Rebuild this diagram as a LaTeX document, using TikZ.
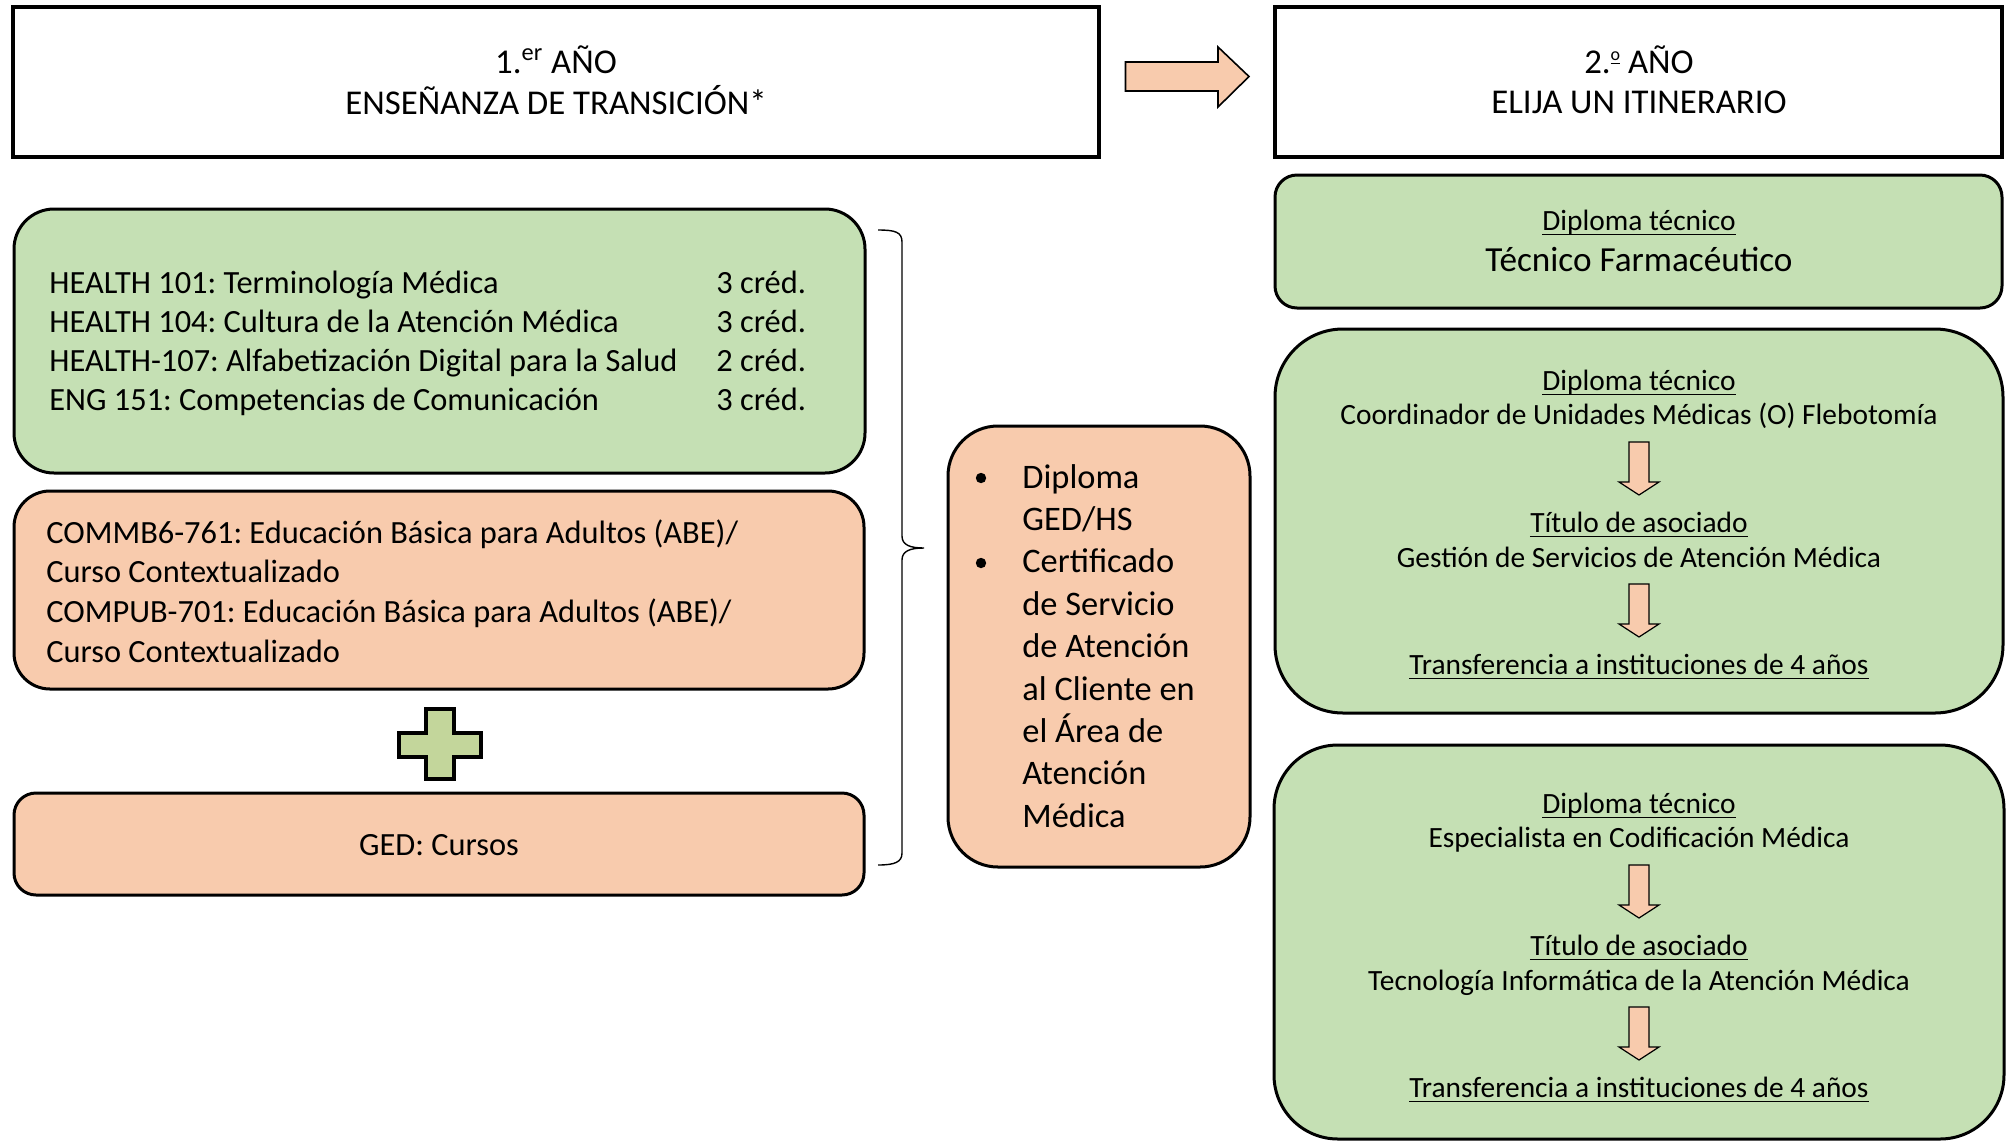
\documentclass[tikz,border=0pt]{standalone}
\usepackage{fontspec}
\setmainfont{Carlito}
\frenchspacing
\definecolor{gfill}{HTML}{C5E0B4}
\definecolor{ofill}{HTML}{F8CBAD}
\definecolor{pfill}{HTML}{C3D69B}
\newcommand\ordo{\raisebox{6.3pt}{\fontsize{9pt}{9pt}\selectfont\underline{o}}}
\begin{document}
\begin{tikzpicture}[x=0.5pt,y=-0.5pt,
  hdr/.style={draw, line width=1.7pt, fill=white, inner sep=0pt, rectangle},
  gbox/.style={draw, line width=1.5pt, fill=gfill, inner sep=0pt, rectangle},
  obox/.style={draw, line width=1.5pt, fill=ofill, inner sep=0pt, rectangle},
  hdrtxt/.style={font=\fontsize{17.4pt}{20pt}\selectfont, anchor=base, inner sep=0pt},
  bodyL/.style={font=\fontsize{16.2pt}{19pt}\selectfont, anchor=base west, inner sep=0pt},
  bodyC/.style={font=\fontsize{16.2pt}{19pt}\selectfont, anchor=base, inner sep=0pt},
  bulL/.style={font=\fontsize{17.2pt}{21pt}\selectfont, anchor=base west, inner sep=0pt},
  smallC/.style={font=\fontsize{14.7pt}{18pt}\selectfont, anchor=base, inner sep=0pt},
  bigC/.style={font=\fontsize{17.6pt}{21pt}\selectfont, anchor=base, inner sep=0pt},
  blk/.style={draw=black, line width=0.6pt, fill=ofill, line join=miter},
  uline/.style={line width=0.7pt}
]
\useasboundingbox (0,0) rectangle (2010,1142);

% header boxes
\node[hdr, minimum width=543pt, minimum height=75pt] (A) at (556,82) {};
\node[hdr, minimum width=363.5pt, minimum height=75pt] (B) at (1638.5,82) {};
\node[hdrtxt] (A1) at (556,73) {1.\textsuperscript{er} AÑO};
\node[hdrtxt] (A2) at (556,114) {ENSEÑANZA DE TRANSICIÓN*};
\node[hdrtxt] (B1) at (1639,73) {2.\ordo\ AÑO};
\node[hdrtxt] (B2) at (1639,113) {ELIJA UN ITINERARIO};

% big arrow between headers
\draw[blk, line width=0.8pt] (1125.5,62) -- (1218,62) -- (1218,47) -- (1249,76.5) -- (1218,107) -- (1218,91) -- (1125.5,91) -- cycle;

% left boxes
\node[gbox, rounded corners=20pt, minimum width=425.5pt, minimum height=132pt] (G1) at (439.5,341) {};
\node[obox, rounded corners=18pt, minimum width=425pt, minimum height=99pt] (O1) at (439,590) {};
\node[obox, rounded corners=11pt, minimum width=425pt, minimum height=51pt] (O2) at (439,844) {};

\foreach \i/\yy/\tx/\cc in {1/293/{HEALTH 101: Terminología Médica}/3,
  2/332/{HEALTH 104: Cultura de la Atención Médica}/3,
  3/371/{HEALTH-107: Alfabetización Digital para la Salud}/2,
  4/410/{ENG 151: Competencias de Comunicación}/3}{
  \node[bodyL] (gl\i) at (49,\yy) {\tx};
  \node[bodyL] (gc\i) at (716,\yy) {\cc\ créd.};
}
\foreach \i/\yy/\tx in {1/543/{COMMB6-761: Educación Básica para Adultos (ABE)/},
  2/582/{Curso Contextualizado},
  3/622/{COMPUB-701: Educación Básica para Adultos (ABE)/},
  4/662/{Curso Contextualizado}}{
  \node[bodyL] (ol\i) at (46,\yy) {\tx};
}
\node[bodyC] (O2t) at (439,855) {GED: Cursos};

% plus sign
\draw[line width=2pt, fill=pfill, line join=miter]
  (426,709) -- (454,709) -- (454,733) -- (481,733) -- (481,757) -- (454,757)
  -- (454,779) -- (426,779) -- (426,757) -- (399,757) -- (399,733) -- (426,733) -- cycle;

% brace
\draw[line width=0.7pt] (878,230) .. controls (895,230) and (902,232) .. (902,242)
  -- (902,536) .. controls (902,545) and (910,548) .. (924,548)
  .. controls (910,548) and (902,551) .. (902,560)
  -- (902,853) .. controls (902,862) and (895,865) .. (878,865);

% bullet box
\node[obox, rounded corners=25pt, minimum width=151pt, minimum height=220.5pt] (O3) at (1099,646.5) {};
\fill (981,478) circle (2.6pt);
\fill (981,563) circle (2.6pt);
\foreach \i/\yy/\tx in {1/488/Diploma, 2/530.4/{GED/HS}, 3/572.8/Certificado,
  4/615.2/de Servicio, 5/657.6/de Atención, 6/700/al Cliente en,
  7/742.4/el Área de, 8/784.8/Atención, 9/827.2/Médica}{
  \node[bulL] (bl\i) at (1022,\yy) {\tx};
}

% right boxes
\node[gbox, rounded corners=11pt, minimum width=363.5pt, minimum height=66.5pt] (G2) at (1638.5,241.5) {};
\node[smallC] (G2a) at (1639,230) {Diploma técnico};
\node[bigC] (G2b) at (1639,271) {Técnico Farmacéutico};

\node[gbox, rounded corners=34pt, minimum width=364pt, minimum height=192pt] (G3) at (1639,521) {};
\node[smallC] (G3a) at (1639,390) {Diploma técnico};
\node[smallC] (G3b) at (1639,424) {Coordinador de Unidades Médicas (O) Flebotomía};
\node[smallC] (G3c) at (1639,532) {Título de asociado};
\node[smallC] (G3d) at (1639,567) {Gestión de Servicios de Atención Médica};
\node[smallC] (G3e) at (1639,674) {Transferencia a instituciones de 4 años};

\node[gbox, rounded corners=32pt, minimum width=365pt, minimum height=197pt] (G4) at (1639,942) {};
\node[smallC] (G4a) at (1639,813) {Diploma técnico};
\node[smallC] (G4b) at (1639,847) {Especialista en Codificación Médica};
\node[smallC] (G4c) at (1639,955) {Título de asociado};
\node[smallC] (G4d) at (1639,990) {Tecnología Informática de la Atención Médica};
\node[smallC] (G4e) at (1639,1097) {Transferencia a instituciones de 4 años};

% underlines
\foreach \n in {G2a,G3a,G3c,G3e,G4a,G4c,G4e}{
  \draw[uline] ([yshift=-2.1pt]\n.base west) -- ([yshift=-2.1pt]\n.base east);
}

% small down arrows
\foreach \t in {442,584,865,1007}{
  \draw[blk] (1629,\t) -- (1649,\t) -- (1649,\t+40) -- (1659,\t+40) -- (1639,\t+53)
    -- (1619,\t+40) -- (1629,\t+40) -- cycle;
}
\end{tikzpicture}
\end{document}
